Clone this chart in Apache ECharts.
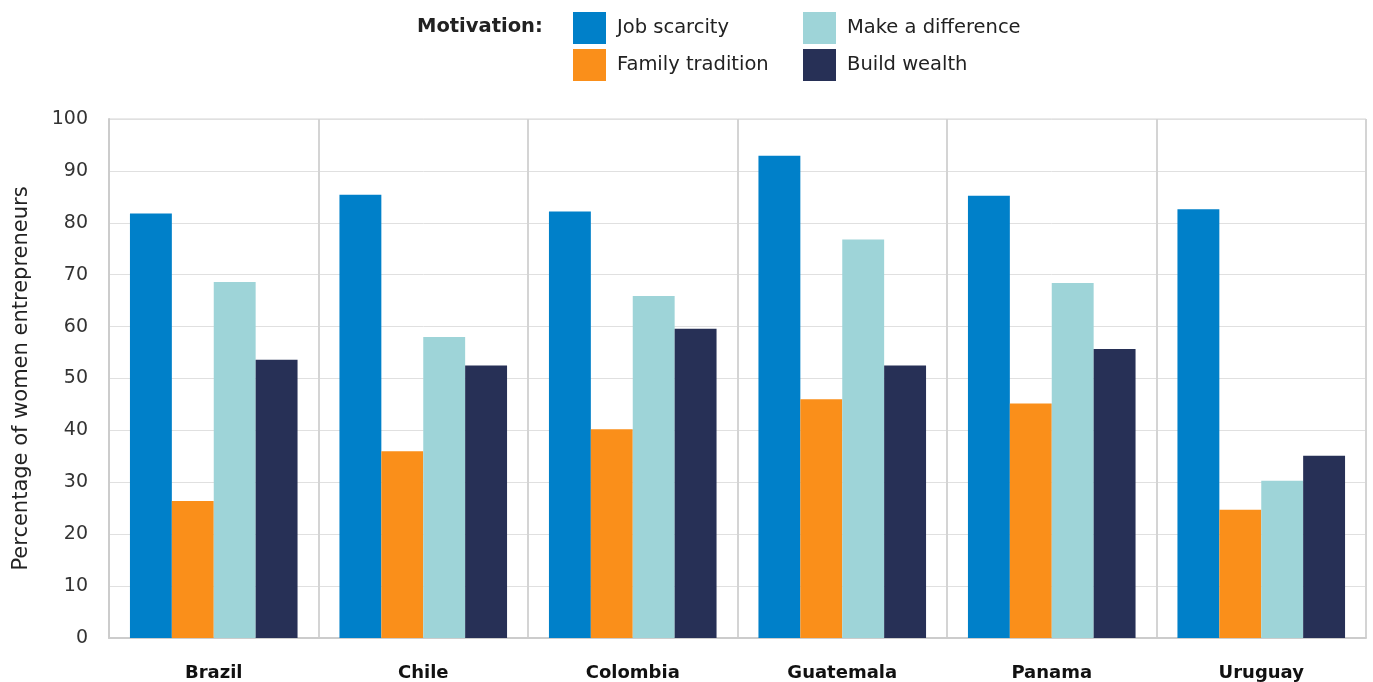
<!DOCTYPE html>
<html>
<head>
<meta charset="utf-8">
<script src="https://cdn.jsdelivr.net/npm/echarts@6/dist/echarts.min.js"></script>
<style>
  html, body { margin: 0; padding: 0; background: #fff; }
  #chart { width: 1373px; height: 682px; }
</style>
</head>
<body>
<div id="chart"></div>
<script>
// Share of women entrepreneurs citing each motivation, by country
const countries = ['Brazil', 'Chile', 'Colombia', 'Guatemala', 'Panama', 'Uruguay'];
const jobScarcity = [81.8, 85.4, 82.2, 92.9, 85.2, 82.6];
const familyTradition = [26.4, 36.0, 40.2, 46.0, 45.2, 24.7];
const makeDifference = [68.6, 58.0, 65.9, 76.8, 68.4, 30.3];
const buildWealth = [53.6, 52.5, 59.6, 52.5, 55.7, 35.1];
const seriesNames = ['Job scarcity', 'Family tradition', 'Make a difference', 'Build wealth'];
const colors = ['#0080C9', '#FA8F1A', '#9ED4D8', '#273056'];

const font = '"DejaVu Sans", sans-serif';
const chart = echarts.init(document.getElementById('chart'));

const legendBase = {
  orient: 'vertical',
  top: 12,
  padding: 0,
  itemWidth: 33,
  itemHeight: 32,
  itemGap: 5,
  icon: 'rect',
  selectedMode: false,
  textStyle: { fontFamily: font, fontSize: 19.5, color: '#222', padding: [0, 0, 0, 6] }
};

chart.setOption({
  animation: false,
  color: colors,
  textStyle: { fontFamily: font },
  graphic: [{
    type: 'text',
    left: 417,
    top: 17,
    style: { text: 'Motivation:', fontFamily: font, fontSize: 19.5, fontWeight: 'bold', fill: '#222' }
  }],
  legend: [
    Object.assign({}, legendBase, { left: 573, data: [seriesNames[0], seriesNames[1]] }),
    Object.assign({}, legendBase, { left: 803, data: [seriesNames[2], seriesNames[3]] })
  ],
  grid: {
    left: 109, right: 7, top: 119, bottom: 42,
    show: true, borderColor: '#d4d4d4', borderWidth: 1
  },
  xAxis: {
    type: 'category',
    data: countries,
    axisLine: { show: true, lineStyle: { color: '#cccccc', width: 2 } },
    axisTick: { show: false },
    splitLine: { show: true, lineStyle: { color: '#d4d4d4', width: 2 } },
    axisLabel: { fontFamily: font, fontSize: 18, fontWeight: 'bold', color: '#111', margin: 26 }
  },
  yAxis: {
    type: 'value',
    min: 0, max: 100, interval: 10,
    name: 'Percentage of women entrepreneurs',
    nameLocation: 'middle',
    nameGap: 77,
    nameTextStyle: { fontFamily: font, fontSize: 21, color: '#222' },
    axisLine: { show: true, lineStyle: { color: '#cccccc', width: 2 } },
    axisTick: { show: false },
    splitLine: { show: true, lineStyle: { color: '#e0e0e0', width: 1 } },
    axisLabel: { fontFamily: font, fontSize: 19, color: '#333', margin: 21 }
  },
  series: [jobScarcity, familyTradition, makeDifference, buildWealth].map((d, i) => ({
    name: seriesNames[i],
    type: 'bar',
    data: d,
    barGap: '0%',
    barCategoryGap: '20%',
    itemStyle: { color: colors[i] }
  }))
});
</script>
</body>
</html>
